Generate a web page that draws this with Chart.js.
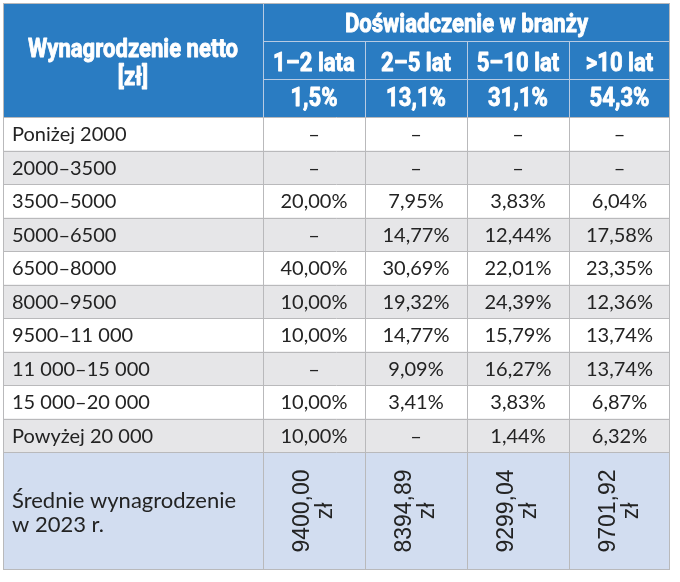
<!DOCTYPE html>
<html><head><meta charset="utf-8">
<script src="https://cdn.jsdelivr.net/npm/chart.js@4.4.1/dist/chart.umd.min.js"></script>
<style>html,body{margin:0;padding:0;background:#fff}canvas{display:block}</style>
</head><body>
<canvas id="c" width="680" height="582"></canvas>
<script>
// ---- data ----
const cornerTitle = ['Wynagrodzenie netto', '[zł]'];
const groupTitle = 'Doświadczenie w branży';
const experience = ['1–2 lata', '2–5 lat', '5–10 lat', '>10 lat'];
const experienceShare = ['1,5%', '13,1%', '31,1%', '54,3%'];
const salaryRanges = ['Poniżej 2000', '2000–3500', '3500–5000', '5000–6500', '6500–8000',
  '8000–9500', '9500–11 000', '11 000–15 000', '15 000–20 000', 'Powyżej 20 000'];
const share1to2 = [null, null, 20.00, null, 40.00, 10.00, 10.00, null, 10.00, 10.00];
const share2to5 = [null, null, 7.95, 14.77, 30.69, 19.32, 14.77, 9.09, 3.41, null];
const share5to10 = [null, null, 3.83, 12.44, 22.01, 24.39, 15.79, 16.27, 3.83, 1.44];
const shareOver10 = [null, null, 6.04, 17.58, 23.35, 12.36, 13.74, 13.74, 6.87, 6.32];
const averageLabel = ['Średnie wynagrodzenie', 'w 2023 r.'];
const averageSalary = [9400.00, 8394.89, 9299.04, 9701.92];

const shareSeries = [share1to2, share2to5, share5to10, shareOver10];

// ---- layout (table units on the chart's linear scales) ----
const colEdges = [0, 260, 362, 464, 566, 667];
const headRows = [0, 38, 76, 114];
const rowH = 33.5;
const bodyTop = 114;
const bodyBottom = bodyTop + rowH * salaryRanges.length;
const tableBottom = 567;

const BLUE = '#2a7cc2', GRAY = '#e6e6e8', FOOT = '#d2ddf0', LINE = '#b9b9bb', HLINE = '#b7cbe3', TXT = '#232323';

const fmtPct = v => v == null ? '–' : v.toFixed(2).replace('.', ',') + '%';
const fmtZl = v => v.toFixed(2).replace('.', ',');

const tablePlugin = {
  id: 'tablePlugin',
  beforeDatasetsDraw(chart) {
    const ctx = chart.ctx, xs = chart.scales.x, ys = chart.scales.y;
    const X = v => xs.getPixelForValue(v), Y = v => ys.getPixelForValue(v);
    const rect = (x0, y0, x1, y1, c) => { ctx.fillStyle = c; ctx.fillRect(X(x0), Y(y0), X(x1) - X(x0), Y(y1) - Y(y0)); };
    const hline = (x0, x1, y, c) => { ctx.strokeStyle = c; ctx.lineWidth = 1; ctx.beginPath(); const py = Math.round(Y(y)) + 0.5; ctx.moveTo(X(x0), py); ctx.lineTo(X(x1), py); ctx.stroke(); };
    const vline = (x, y0, y1, c) => { ctx.strokeStyle = c; ctx.lineWidth = 1; ctx.beginPath(); const px = Math.round(X(x)) + 0.5; ctx.moveTo(px, Y(y0)); ctx.lineTo(px, Y(y1)); ctx.stroke(); };
    const condensed = (text, cx, by, size) => {
      ctx.save();
      ctx.font = 'bold ' + size + 'px Roboto';
      ctx.translate(cx, by);
      ctx.scale(0.85, 1);
      ctx.textAlign = 'center';
      ctx.textBaseline = 'alphabetic';
      ctx.fillStyle = '#ffffff';
      ctx.strokeStyle = '#ffffff';
      ctx.lineWidth = 0.9;
      ctx.lineJoin = 'round';
      ctx.fillText(text, 0, 0);
      ctx.strokeText(text, 0, 0);
      ctx.restore();
    };
    ctx.save();
    // header background
    rect(0, 0, 667, bodyTop, BLUE);
    // body stripes
    salaryRanges.forEach((r, i) => rect(0, bodyTop + i * rowH, 667, bodyTop + (i + 1) * rowH, i % 2 ? GRAY : '#ffffff'));
    rect(0, bodyBottom, 667, tableBottom, FOOT);
    // header lines
    hline(colEdges[1], 667, headRows[1], HLINE);
    hline(colEdges[1], 667, headRows[2], HLINE);
    vline(colEdges[1], 0, bodyTop, HLINE);
    for (let c = 2; c < 5; c++) vline(colEdges[c], headRows[1], bodyTop, HLINE);
    // body lines
    for (let i = 0; i <= salaryRanges.length; i++) hline(0, 667, bodyTop + i * rowH, LINE);
    for (let c = 1; c < 5; c++) vline(colEdges[c], bodyTop, tableBottom, LINE);
    // outer border
    ctx.strokeStyle = LINE; ctx.lineWidth = 1;
    ctx.strokeRect(Math.round(X(0)) + 0.5, Math.round(Y(0)) + 0.5, Math.round(X(667) - X(0)) - 1, Math.round(Y(tableBottom) - Y(0)) - 1);

    // header text
    const cornerCx = (X(colEdges[0]) + X(colEdges[1])) / 2;
    condensed(cornerTitle[0], cornerCx, Y(54), 26);
    condensed(cornerTitle[1], cornerCx, Y(82), 26);
    condensed(groupTitle, (X(colEdges[1]) + X(colEdges[5])) / 2, Y(29), 26);
    experience.forEach((t, c) => condensed(t, (X(colEdges[c + 1]) + X(colEdges[c + 2])) / 2, Y(68), 26));
    experienceShare.forEach((t, c) => condensed(t, (X(colEdges[c + 1]) + X(colEdges[c + 2])) / 2, Y(103), 26));

    // body text
    ctx.fillStyle = TXT;
    ctx.textBaseline = 'alphabetic';
    ctx.font = '20px Lato';
    salaryRanges.forEach((r, i) => {
      const by = Y(bodyTop + i * rowH + 24);
      ctx.textAlign = 'left';
      ctx.fillText(r, X(9), by);
      ctx.textAlign = 'center';
      shareSeries.forEach((s, c) => ctx.fillText(fmtPct(s[i]), (X(colEdges[c + 1]) + X(colEdges[c + 2])) / 2, by));
    });
    // footer
    ctx.font = '22px Lato';
    ctx.textAlign = 'left';
    ctx.fillText(averageLabel[0], X(9), Y(505));
    ctx.fillText(averageLabel[1], X(9), Y(529));
    ctx.font = '23px "Liberation Sans"';
    ctx.textAlign = 'center';
    ctx.textBaseline = 'middle';
    averageSalary.forEach((v, c) => {
      ctx.save();
      ctx.translate((X(colEdges[c + 1]) + X(colEdges[c + 2])) / 2, Y(508));
      ctx.rotate(-Math.PI / 2);
      ctx.fillText(fmtZl(v), 0, -11);
      ctx.fillText('zł', 0, 12);
      ctx.restore();
    });
    ctx.restore();
  }
};

new Chart(document.getElementById('c'), {
  type: 'scatter',
  data: { datasets: [{ data: [], showLine: false }] },
  options: {
    responsive: false,
    animation: false,
    layout: { padding: { left: 3, top: 3, right: 10, bottom: 12 } },
    plugins: { legend: { display: false }, tooltip: { enabled: false } },
    scales: {
      x: { type: 'linear', min: 0, max: 667, display: false },
      y: { type: 'linear', min: 0, max: tableBottom, reverse: true, display: false }
    }
  },
  plugins: [tablePlugin]
});
</script>
</body></html>
